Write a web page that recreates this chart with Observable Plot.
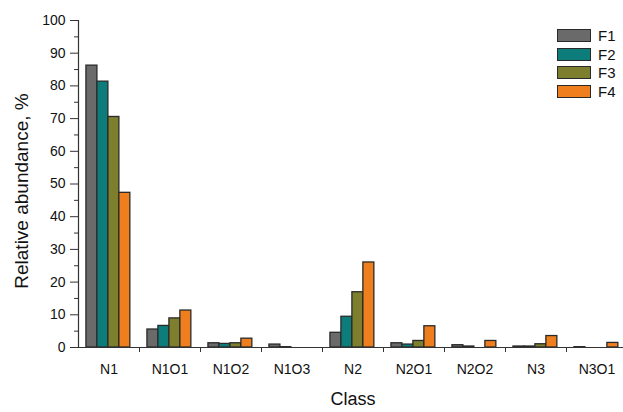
<!DOCTYPE html>
<html>
<head>
<meta charset="utf-8">
<script src="https://cdn.jsdelivr.net/npm/d3@7"></script>
<script src="https://cdn.jsdelivr.net/npm/@observablehq/plot@0.6"></script>
<style>
  html, body { margin: 0; padding: 0; background: #fff; }
  #wrap { position: relative; width: 623px; height: 412px; overflow: hidden; font-family: "Liberation Sans", Arial, sans-serif; }
  #wrap svg { display: block; }
  #legend { position: absolute; left: 557px; top: 26px; font-size: 15px; color: #111; }
  .row { display: flex; align-items: center; height: 18.7px; }
  .sw { width: 32px; height: 11px; border: 1.3px solid #2a2a2a; margin-right: 7px; }
</style>
</head>
<body>
<div id="wrap"></div>
<script>
const classes = ["N1", "N1O1", "N1O2", "N1O3", "N2", "N2O1", "N2O2", "N3", "N3O1"];
const seriesNames = ["F1", "F2", "F3", "F4"];
const F1 = [86.2, 5.5, 1.3, 0.9, 4.5, 1.3, 0.7, 0.3, 0.1];
const F2 = [81.3, 6.6, 1.1, 0.1, 9.4, 0.9, 0.3, 0.3, 0.0];
const F3 = [70.5, 8.9, 1.3, 0.0, 16.9, 2.0, 0.0, 1.0, 0.0];
const F4 = [47.3, 11.3, 2.7, 0.0, 26.0, 6.5, 2.0, 3.5, 1.4];
const colors = ["#6a6a6a", "#0d7d7c", "#7d7f2e", "#ef7f1e"];
const yTicks = [0, 10, 20, 30, 40, 50, 60, 70, 80, 90, 100];
const yMinor = [5, 15, 25, 35, 45, 55, 65, 75, 85, 95];

const seriesValues = [F1, F2, F3, F4];
const rows = [];
seriesValues.forEach((vals, j) => vals.forEach((v, i) => rows.push({cls: classes[i], i, series: seriesNames[j], j, value: v})));

const barW = 0.18;
const pad = (1 - 4 * barW) / 2 - 0.01;

const chart = Plot.plot({
  width: 623,
  height: 412,
  marginLeft: 78,
  marginRight: -4,
  marginTop: 20,
  marginBottom: 65,
  style: {fontFamily: "Liberation Sans, Arial, sans-serif", fontSize: "14px", color: "#111", background: "#fff"},
  x: {type: "linear", domain: [0, classes.length], axis: null},
  y: {domain: [0, 100], axis: null},
  color: {domain: seriesNames, range: colors},
  marks: [
    Plot.rectY(rows, {
      x1: d => d.i + pad + d.j * barW,
      x2: d => d.i + pad + (d.j + 1) * barW,
      y1: 0,
      y2: "value",
      fill: "series",
      stroke: "#2a2a2a",
      strokeWidth: 1.3
    }),
    Plot.ruleY([0], {stroke: "#333", strokeWidth: 1.2}),
    Plot.ruleX([0], {stroke: "#333", strokeWidth: 1.2}),
    Plot.axisX({ticks: d3.range(1, classes.length), tickFormat: () => "", tickSize: 5, stroke: "#333"}),
    Plot.axisX({ticks: classes.map((c, i) => i + 0.5), tickFormat: v => classes[Math.floor(v)], tickSize: 0, tickPadding: 17, fontSize: 14, label: null}),
    Plot.axisY({ticks: yTicks, tickSize: 8, tickPadding: 5, fontSize: 14, label: null, stroke: "#333"}),
    Plot.axisY({ticks: yMinor, tickSize: 4, tickFormat: () => "", label: null, stroke: "#333"}),
    Plot.text(["Relative abundance, %"], {frameAnchor: "left", textAnchor: "middle", rotate: -90, dx: -57, dy: 7, fontSize: 19, fill: "#111"}),
    Plot.text(["Class"], {frameAnchor: "bottom", textAnchor: "middle", dy: 57, fontSize: 18, fill: "#111"})
  ]
});

const wrap = document.getElementById("wrap");
wrap.appendChild(chart);
const legend = document.createElement("div");
legend.id = "legend";
seriesNames.forEach((s, j) => {
  const row = document.createElement("div");
  row.className = "row";
  const sw = document.createElement("div");
  sw.className = "sw";
  sw.style.background = colors[j];
  const t = document.createElement("span");
  t.textContent = s;
  row.appendChild(sw);
  row.appendChild(t);
  legend.appendChild(row);
});
wrap.appendChild(legend);
</script>
</body>
</html>
